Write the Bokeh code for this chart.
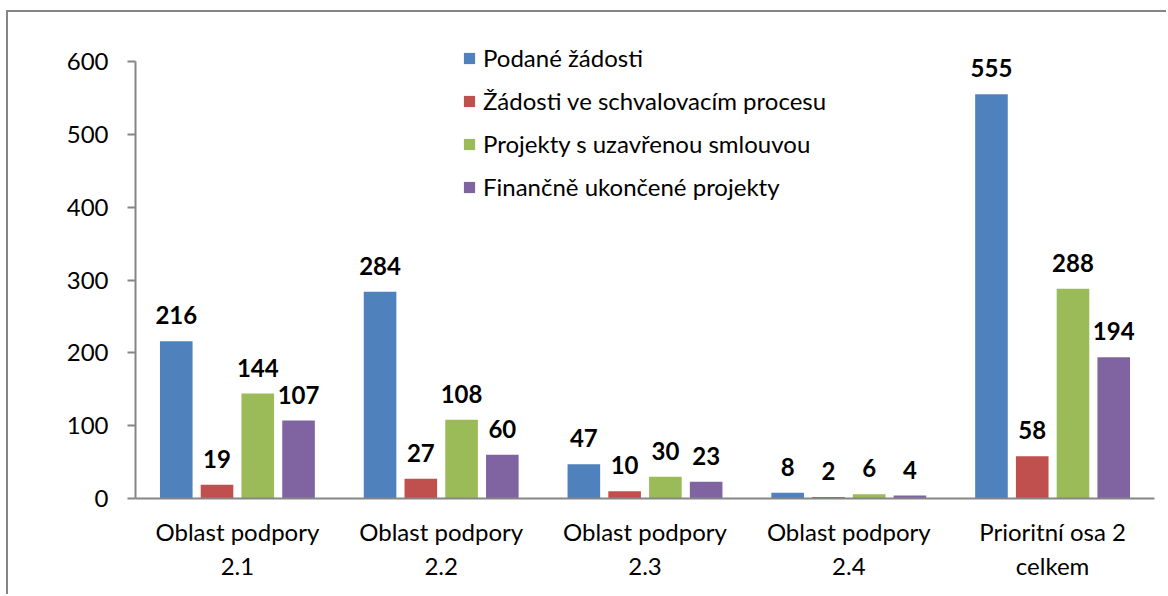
from bokeh.plotting import figure
from bokeh.models import ColumnDataSource, FactorRange, Range1d, FixedTicker, Legend, LegendItem
from bokeh.transform import dodge
from bokeh.embed import file_html
from bokeh.resources import INLINE
from bokeh.core.properties import value

categories = ["Oblast podpory\n2.1", "Oblast podpory\n2.2", "Oblast podpory\n2.3",
              "Oblast podpory\n2.4", "Prioritní osa 2\ncelkem"]
series_names = ["Podané žádosti", "Žádosti ve schvalovacím procesu",
                "Projekty s uzavřenou smlouvou", "Finančně ukončené projekty"]
podane = [216, 284, 47, 8, 555]
schvalovani = [19, 27, 10, 2, 58]
smlouva = [144, 108, 30, 6, 288]
ukoncene = [107, 60, 23, 4, 194]
y_ticks = [0, 100, 200, 300, 400, 500, 600]

colors = ["#4F81BD", "#C0504D", "#9BBB59", "#8064A2"]
series_values = [podane, schvalovani, smlouva, ukoncene]
offsets = [-0.3, -0.1, 0.1, 0.3]
FONT = "Lato"
FS = "24px"
AXIS_COLOR = "#868686"

# frame: 437 px high for 0..600; extra headroom so the legend stays inside the frame
p = figure(width=1160, height=584, output_backend="svg", toolbar_location=None,
           x_range=FactorRange(factors=categories, range_padding=0),
           y_range=Range1d(0, 600 * 476 / 437),
           min_border_left=127, min_border_top=10, min_border_right=14, min_border_bottom=98)
p.styles = {"border-left": "2px solid #868686", "border-top": "2px solid #868686",
            "margin-left": "6px", "margin-top": "10px"}
p.outline_line_color = None
p.xgrid.grid_line_color = None
p.ygrid.grid_line_color = None

items = []
for name, vals, col, off in zip(series_names, series_values, colors, offsets):
    src = ColumnDataSource(dict(cat=categories, val=vals, lab=[str(v) for v in vals]))
    r = p.vbar(x=dodge("cat", off, range=p.x_range), top="val", width=0.16, bottom=0,
               source=src, fill_color=col, line_color=None)
    p.text(x=dodge("cat", off, range=p.x_range), y="val", text="lab", source=src,
           text_align="center", text_baseline="alphabetic", y_offset=-26,
           text_font=value(FONT), text_font_size=FS, text_font_style="bold",
           text_color="black")
    items.append(LegendItem(label=name, renderers=[r]))

legend = Legend(items=items, location=(327, 297), orientation="vertical",
                glyph_width=14, glyph_height=14, label_standoff=7,
                label_text_font=FONT, label_text_font_size=FS,
                label_text_color="black", spacing=14, padding=0, margin=0,
                border_line_color=None, background_fill_alpha=0)
p.add_layout(legend, "center")

p.yaxis.ticker = FixedTicker(ticks=y_ticks)
p.yaxis.bounds = (0, 600)
p.yaxis.minor_tick_line_color = None
p.yaxis.major_tick_out = 8
p.yaxis.major_tick_in = 0
p.yaxis.major_label_standoff = 19
p.yaxis.axis_line_color = AXIS_COLOR
p.yaxis.axis_line_width = 2
p.yaxis.major_tick_line_color = AXIS_COLOR
p.yaxis.major_tick_line_width = 2
p.yaxis.major_label_text_font = FONT
p.yaxis.major_label_text_font_size = FS
p.yaxis.major_label_text_color = "black"

p.xaxis.major_tick_out = 0
p.xaxis.major_tick_in = 0
p.xaxis.axis_line_color = AXIS_COLOR
p.xaxis.axis_line_width = 2
p.xaxis.major_label_standoff = 18
p.xaxis.major_label_text_font = FONT
p.xaxis.major_label_text_font_size = FS
p.xaxis.major_label_text_color = "black"

open("out.html", "w").write(file_html(p, INLINE))
